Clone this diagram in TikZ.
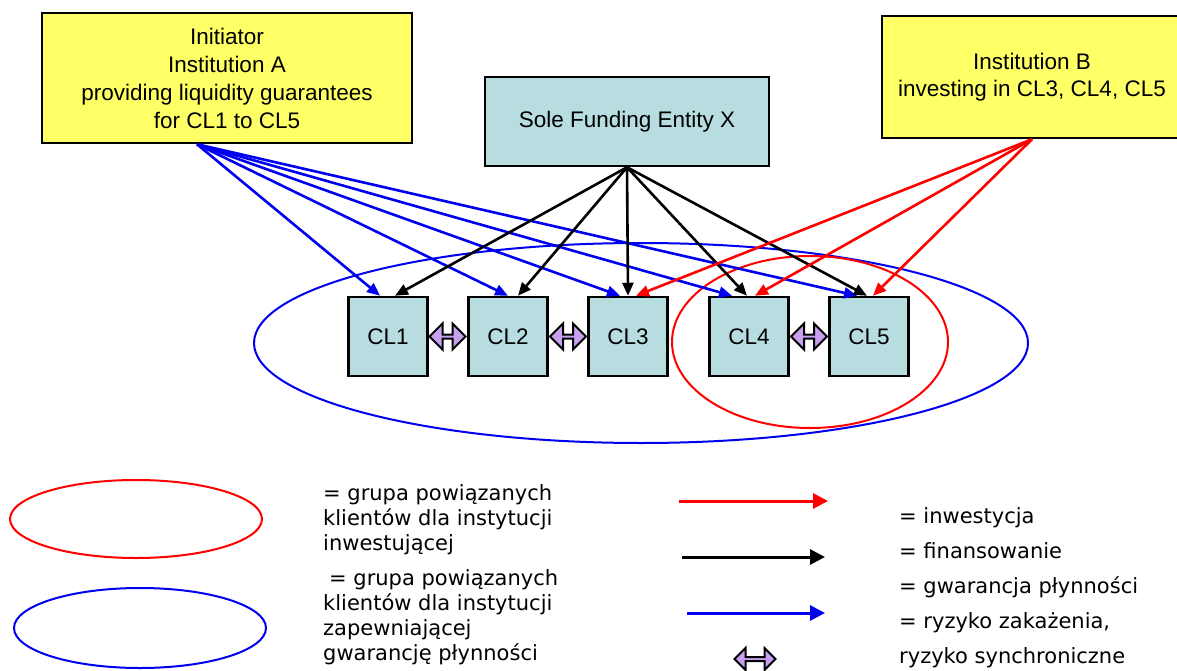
\documentclass[tikz,border=0pt]{standalone}
\usepackage{fontspec}
\setmainfont{Liberation Sans}
\newfontfamily\legfont{DejaVu Sans}
\usetikzlibrary{arrows.meta,shapes.arrows}
\definecolor{boxyellow}{RGB}{255,255,102}
\definecolor{boxcyan}{RGB}{183,221,224}
\definecolor{synclilac}{RGB}{200,160,240}
\definecolor{linkblue}{RGB}{0,0,240}
\tikzset{
  inst/.style={draw,line width=2.5pt,fill=boxyellow,align=center,inner sep=0pt,font=\fontsize{22.5}{28}\selectfont},
  client/.style={draw,line width=2.5pt,fill=boxcyan,minimum width=79pt,minimum height=79pt,inner sep=0pt,font=\fontsize{22.5}{26}\selectfont},
  lnk/.style={line width=2.6pt,-{Triangle[length=13pt,width=11pt]}},
  keylnk/.style={line width=3pt,-{Triangle[length=15pt,width=15pt]}},
  sync/.style={double arrow,draw,line width=2pt,fill=synclilac,minimum height=36pt,minimum width=26pt,double arrow head extend=5.5pt,inner sep=0pt},
  legtext/.style={font=\legfont\fontsize{21}{25}\selectfont,align=left,inner sep=0pt}
}
\begin{document}
\begin{tikzpicture}[x=1pt,y=-1pt]
        \useasboundingbox(0,0)rectangle(1177,671);
        \draw[linkblue,line width=2pt](641,343)ellipse[x radius=387,y radius=100];
        \draw[red,line width=2pt](810,342)ellipse[x radius=138,y radius=86];
        \node[inst,minimum width=370pt,minimum height=130pt](insta)at(227,78){Initiator\\Institution A\\providing liquidity guarantees\\for CL1 to CL5};
        \node[inst,minimum width=300pt,minimum height=122pt,font=\fontsize{22.5}{27}\selectfont](instb)at(1032,77){Institution B\\investing in CL3, CL4, CL5};
        \node[client,minimum width=284pt,minimum height=89pt](sole)at(627,121.5){Sole Funding Entity X};
        \foreach \i/\x in {1/388,2/508,3/628,4/749,5/869} \node[client](cl\i)at(\x,336.5){CL\i};
        \foreach \x in {447.5,568,809} \node[sync](s\x)at(\x,336.5){};
        \foreach \c/\s in {cl1/-8,cl2/0,cl3/-8,cl4/-17,cl5/-12} \draw[lnk,linkblue]([xshift=-30pt]insta.south)--([xshift=\s pt]\c.north);
        \foreach \c/\s in {cl1/7,cl2/10,cl3/0,cl4/-2,cl5/-2} \draw[lnk](sole.south)--([xshift=\s pt]\c.north);
        \foreach \c/\s in {cl3/8,cl4/6,cl5/4} \draw[lnk,red](instb.south)--([xshift=\s pt]\c.north);
        % legend
        \draw[red,line width=2pt](136,519)ellipse[x radius=126,y radius=39];
        \draw[linkblue,line width=2pt](140,628)ellipse[x radius=126,y radius=40];
        \node[legtext,anchor=west](grpinv)at(323,520){= grupa powiązanych\\klientów dla instytucji\\inwestującej};
        \node[legtext,anchor=west](grpliq)at(323,617.5){\hspace*{6pt}= grupa powiązanych\\klientów dla instytucji\\zapewniającej\\gwarancję płynności};
        \coordinate(invs)at(679,501);\coordinate(inve)at(828,501);
        \coordinate(fins)at(682,557);\coordinate(fine)at(825,557);
        \coordinate(gwas)at(687,613);\coordinate(gwae)at(825,613);
        \draw[keylnk,red](invs)--(inve);
        \draw[keylnk](fins)--(fine);
        \draw[keylnk,linkblue](gwas)--(gwae);
        \node[sync,minimum height=41pt,minimum width=22pt,double arrow head extend=4.5pt](synckey)at(755,659){};
        \node[legtext,anchor=west,font=\legfont\fontsize{21}{35}\selectfont](legkey)at(899,588){= inwestycja\\= finansowanie\\= gwarancja płynności\\= ryzyko zakażenia,\\ryzyko synchroniczne};
    \end{tikzpicture}
\end{document}
